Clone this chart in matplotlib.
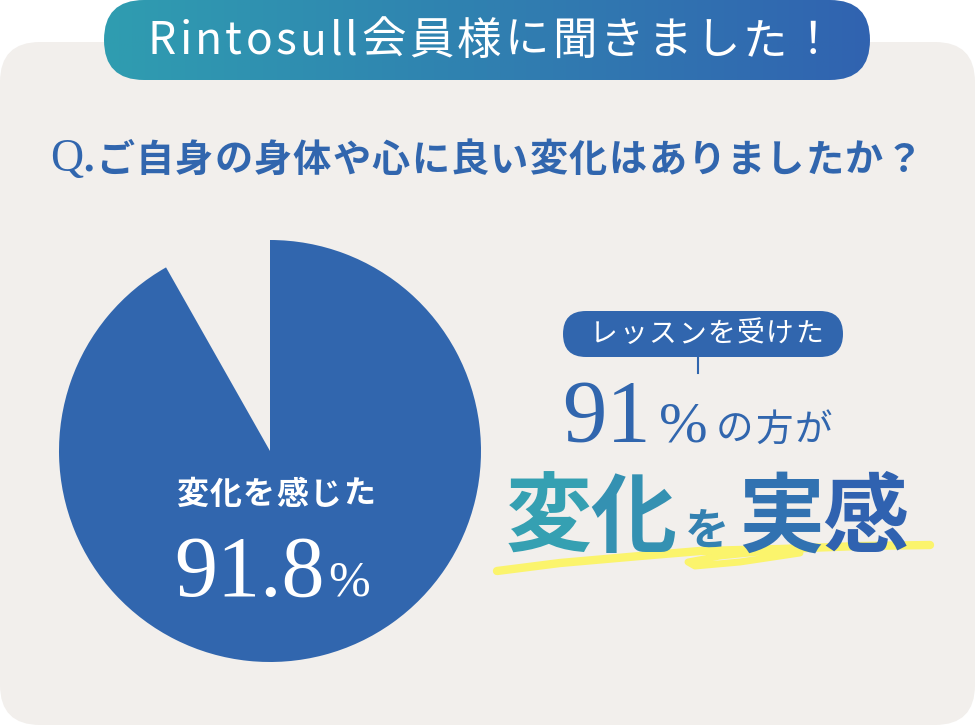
import numpy as np
import matplotlib.pyplot as plt
from matplotlib.patches import FancyBboxPatch
from matplotlib.colors import LinearSegmentedColormap, to_rgb

plt.rcParams['font.family'] = ['Noto Sans CJK JP', 'DejaVu Sans']

# data
labels = ["変化を感じた", "その他"]
shares = [91.8, 8.2]
title = "Rintosull会員様に聞きました！"
question = "ご自身の身体や心に良い変化はありましたか？"
pill_text = "レッスンを受けた"
headline_num = "91"
headline_rest = "の方が"
headline_big = ["変", "化", "を", "実", "感"]

W, H = 975, 725
blue = "#3166ae"
teal = "#2f9db0"
bg = "#f2efec"


def Y(y):
    # image pixel row -> data y
    return H - y


fig = plt.figure(figsize=(9.75, 7.25), dpi=100)
fig.patch.set_facecolor("white")
ax = fig.add_axes([0, 0, 1, 1])
ax.set_xlim(0, W)
ax.set_ylim(0, H)
renderer = fig.canvas.get_renderer()


def tracked(x0, y, s, spacing, **kw):
    # draw string char by char with extra letter spacing, starting at x0
    x = x0
    for ch in s:
        t = ax.text(x, y, ch, ha="left", **kw)
        x += t.get_window_extent(renderer).width + spacing
    return x


# background card
ax.add_patch(FancyBboxPatch((0, 0), W, H - 42, boxstyle="round,pad=0,rounding_size=40",
                            fc=bg, ec="none", zorder=0))

# top banner with gradient
banner = FancyBboxPatch((104, Y(80)), 766, 80, boxstyle="round,pad=0,rounding_size=40",
                        fc="none", ec="none", zorder=2)
ax.add_patch(banner)
cmap = LinearSegmentedColormap.from_list("g", [teal, "#3163b0"])
grad = np.linspace(0, 1, 256).reshape(1, -1)
im = ax.imshow(grad, cmap=cmap, extent=(104, 870, Y(80), Y(0)), aspect="auto", zorder=2)
im.set_clip_path(banner)
tracked(148, Y(41), title, 3.2, color="white", fontsize=32, va="center", zorder=3)

# question
ax.text(50, Y(160), "Q", family="Liberation Serif", fontsize=33, color=blue,
        ha="left", va="center")
tracked(82, Y(160), "." + question, 1.2, fontsize=27.5, fontweight="bold", color=blue,
        va="center")

# pie
ax.pie(shares, center=(270, Y(451)), radius=211, startangle=90, counterclock=False,
       colors=[blue, "none"], wedgeprops=dict(linewidth=0))
tracked(176, Y(495), labels[0], 1.5, color="white", fontsize=23, fontweight="bold",
        va="center")
ax.text(325, Y(596), f"{shares[0]:.1f}", family="Liberation Serif", color="white",
        fontsize=62, ha="right", va="baseline")
ax.text(328, Y(596), "%", family="Liberation Serif", color="white",
        fontsize=36, ha="left", va="baseline")

# pill label
ax.add_patch(FancyBboxPatch((563, Y(357)), 280, 46, boxstyle="round,pad=0,rounding_size=23",
                            fc=blue, ec="none", zorder=2))
tracked(590, Y(334), pill_text, 1.5, color="white", fontsize=20, va="center", zorder=3)
ax.plot([698, 698], [Y(357), Y(373)], color=blue, lw=1.5)

# 91% の方が
ax.text(651, Y(441), headline_num, family="Liberation Serif", color=blue,
        fontsize=64, ha="right", va="baseline")
ax.text(659, Y(441), "%", family="Liberation Serif", color=blue,
        fontsize=42, ha="left", va="baseline")
tracked(716, Y(441), headline_rest, 2, color=blue, fontsize=27, va="baseline")

# yellow brush stroke
ax.plot([497, 560, 640, 700, 780, 860, 930],
        [Y(571), Y(563), Y(556), Y(551), Y(549), Y(546), Y(545)],
        color="#fbf46c", lw=6, solid_capstyle="round", zorder=3)
ax.plot([790, 720, 688, 695, 740, 800],
        [Y(549), Y(556), Y(562), Y(566), Y(562), Y(553)],
        color="#fbf46c", lw=5, solid_capstyle="round", zorder=3)

# 変化を実感 with per-character gradient
xs = [549, 633, 707, 781, 865]
sizes = [62, 62, 32, 62, 62]
c0, c1 = np.array(to_rgb("#35a0b2")), np.array(to_rgb("#3062b0"))
for i, (ch, x, s) in enumerate(zip(headline_big, xs, sizes)):
    t = i / (len(headline_big) - 1)
    ax.text(x, Y(545), ch, color=tuple(c0 + (c1 - c0) * t), fontsize=s,
            fontweight="bold", ha="center", va="baseline", zorder=4)

ax.set_xlim(0, W)
ax.set_ylim(0, H)
ax.set_aspect("auto")
ax.axis("off")

fig.savefig("out.png", dpi=100, facecolor="white")
